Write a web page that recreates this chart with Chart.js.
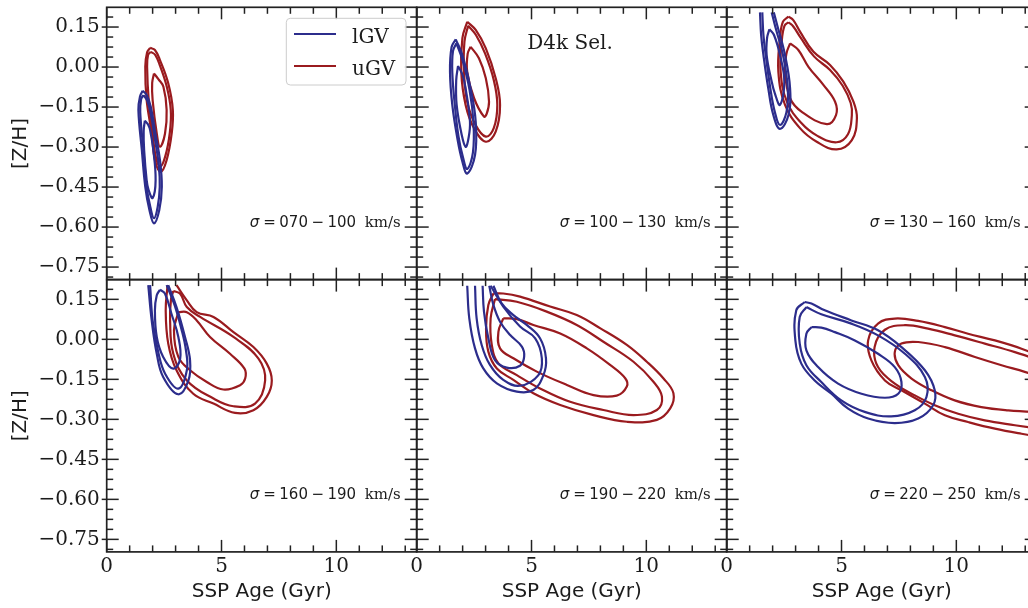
<!DOCTYPE html>
<html>
<head>
<meta charset="utf-8">
<script src="https://cdn.jsdelivr.net/npm/chart.js@4.4.1/dist/chart.umd.min.js"></script>
<style>
  html, body { margin: 0; padding: 0; background: #fff; }
  #wrap { position: relative; width: 1028px; height: 608px; overflow: hidden; }
  #wrap canvas { position: absolute; left: 0; top: 0; }
</style>
</head>
<body>
<div id="wrap"></div>
<script>
// axis ticks
const xTicks = [0, 5, 10];
const xTickLabels = ['0', '5', '10'];
const yTicks = [-0.75, -0.6, -0.45, -0.3, -0.15, 0, 0.15];
const yTickLabels = ['−0.75', '−0.60', '−0.45', '−0.30', '−0.15', '0.00', '0.15'];
const xRange = [0, 13.5];
const yRange = [-0.797, 0.224];

const seriesNames = ['lGV', 'uGV'];
const sigmaLo = ['070', '100', '130', '160', '190', '220'];
const sigmaHi = ['100', '130', '160', '190', '220', '250'];

// contours, [age, Z/H], outer -> inner
const p1Lgv1 = [[1.57,-0.089],[1.74,-0.105],[1.92,-0.149],[2.12,-0.249],[2.32,-0.349],[2.40,-0.449],[2.29,-0.536],[2.06,-0.586],[1.86,-0.536],[1.68,-0.449],[1.53,-0.311],[1.38,-0.161],[1.45,-0.11]];
const p1Lgv2 = [[1.60,-0.105],[1.76,-0.125],[1.92,-0.175],[2.10,-0.27],[2.27,-0.37],[2.31,-0.45],[2.22,-0.525],[2.06,-0.567],[1.90,-0.525],[1.74,-0.45],[1.60,-0.311],[1.46,-0.17],[1.50,-0.12]];
const p1Lgv3 = [[1.66,-0.201],[1.80,-0.215],[1.89,-0.236],[2.03,-0.311],[2.13,-0.424],[2.0,-0.491],[1.82,-0.46],[1.74,-0.424],[1.63,-0.311],[1.61,-0.24]];
const p1Ugv1 = [[1.89,0.072],[2.10,0.064],[2.32,0.026],[2.68,-0.061],[2.88,-0.161],[2.83,-0.249],[2.61,-0.349],[2.35,-0.393],[2.10,-0.349],[1.96,-0.249],[1.74,-0.124],[1.68,0.001],[1.76,0.055]];
const p1Ugv2 = [[1.92,0.057],[2.12,0.045],[2.32,0.005],[2.62,-0.075],[2.79,-0.161],[2.75,-0.245],[2.55,-0.335],[2.32,-0.374],[2.12,-0.33],[1.99,-0.24],[1.83,-0.124],[1.76,0.0],[1.80,0.045]];
const p1Ugv3 = [[2.06,-0.024],[2.25,-0.045],[2.47,-0.074],[2.61,-0.161],[2.54,-0.249],[2.32,-0.299],[2.18,-0.249],[2.0,-0.124],[1.98,-0.06]];

const p2Lgv1 = [[1.70,0.104],[1.99,0.045],[2.35,-0.080],[2.57,-0.205],[2.54,-0.330],[2.20,-0.399],[1.99,-0.355],[1.77,-0.267],[1.55,-0.142],[1.45,-0.018],[1.52,0.075]];
const p2Lgv2 = [[1.73,0.089],[1.98,0.03],[2.30,-0.085],[2.47,-0.205],[2.45,-0.32],[2.20,-0.382],[2.02,-0.34],[1.82,-0.26],[1.66,-0.142],[1.55,-0.02],[1.58,0.06]];
const p2Lgv3 = [[1.80,0.004],[2.0,-0.03],[2.13,-0.080],[2.32,-0.205],[2.25,-0.27],[2.13,-0.299],[1.95,-0.25],[1.74,-0.142],[1.72,-0.05]];
const p2Ugv1 = [[2.20,0.170],[2.57,0.139],[3.01,0.070],[3.44,-0.042],[3.63,-0.142],[3.44,-0.242],[3.01,-0.280],[2.50,-0.230],[2.13,-0.142],[1.94,-0.018],[1.99,0.108]];
const p2Ugv2 = [[2.24,0.155],[2.58,0.12],[2.98,0.05],[3.36,-0.05],[3.51,-0.142],[3.36,-0.228],[3.01,-0.261],[2.55,-0.215],[2.20,-0.13],[2.06,-0.018],[2.08,0.095]];
const p2Ugv3 = [[2.35,0.076],[2.71,0.033],[3.01,-0.042],[3.15,-0.130],[3.05,-0.175],[2.93,-0.186],[2.50,-0.117],[2.20,-0.018],[2.22,0.05]];

const p3Lgv1 = [[1.45,0.205],[1.50,0.12],[1.60,0.045],[1.81,-0.080],[2.03,-0.180],[2.32,-0.232],[2.69,-0.180],[2.76,-0.080],[2.54,0.045],[2.20,0.157],[2.05,0.205]];
const p3Lgv2 = [[1.55,0.205],[1.60,0.12],[1.70,0.045],[1.90,-0.080],[2.10,-0.17],[2.32,-0.217],[2.60,-0.17],[2.66,-0.080],[2.45,0.045],[2.12,0.15],[1.96,0.205]];
const p3Lgv3 = [[1.86,0.142],[2.06,0.120],[2.32,0.045],[2.51,-0.055],[2.32,-0.142],[2.10,-0.10],[1.96,-0.055],[1.74,0.045],[1.76,0.11]];
const p3Ugv1 = [[2.69,0.189],[2.90,0.176],[3.20,0.132],[3.78,0.057],[4.50,0.008],[5.08,-0.055],[5.52,-0.130],[5.67,-0.192],[5.45,-0.274],[4.79,-0.309],[3.92,-0.280],[3.20,-0.230],[2.54,-0.142],[2.25,-0.018],[2.32,0.108],[2.45,0.17]];
const p3Ugv2 = [[2.69,0.168],[2.90,0.152],[3.22,0.11],[3.80,0.04],[4.50,-0.011],[5.05,-0.07],[5.40,-0.135],[5.45,-0.180],[5.28,-0.252],[4.79,-0.282],[3.95,-0.258],[3.25,-0.21],[2.62,-0.13],[2.35,-0.018],[2.40,0.10],[2.52,0.155]];
const p3Ugv3 = [[2.76,0.089],[3.12,0.064],[3.56,0.001],[4.21,-0.067],[4.72,-0.130],[4.76,-0.180],[4.36,-0.214],[3.27,-0.168],[2.76,-0.117],[2.54,-0.018],[2.60,0.05]];

const p4Lgv1 = [[1.81,0.203],[1.96,0.071],[2.18,-0.054],[2.46,-0.141],[3.12,-0.206],[3.56,-0.154],[3.63,-0.079],[3.41,0.009],[3.04,0.121],[2.68,0.203]];
const p4Lgv2 = [[1.89,0.203],[2.0,0.071],[2.25,-0.05],[2.55,-0.13],[3.12,-0.185],[3.49,-0.116],[3.45,-0.04],[3.25,0.04],[2.95,0.13],[2.61,0.203]];
const p4Lgv3 = [[2.32,0.186],[2.54,0.171],[2.82,0.096],[3.12,0.009],[3.20,-0.072],[2.90,-0.110],[2.46,-0.066],[2.18,0.009],[2.10,0.109],[2.18,0.165]];
const p4Ugv1 = [[2.65,0.203],[2.57,0.109],[2.68,-0.016],[3.04,-0.116],[3.77,-0.204],[4.65,-0.241],[5.59,-0.276],[6.39,-0.266],[6.97,-0.216],[7.19,-0.154],[6.97,-0.091],[6.39,-0.029],[5.52,0.027],[4.65,0.084],[3.92,0.102],[3.49,0.146],[3.04,0.203]];
const p4Ugv2 = [[2.90,0.181],[3.20,0.171],[3.49,0.121],[4.07,0.084],[5.52,0.009],[6.61,-0.072],[6.90,-0.154],[6.46,-0.241],[5.52,-0.251],[4.65,-0.222],[3.49,-0.154],[2.90,-0.054],[2.76,0.071],[2.80,0.15]];
const p4Ugv3 = [[3.12,0.102],[3.49,0.102],[3.92,0.071],[4.50,0.009],[5.37,-0.054],[6.0,-0.110],[6.03,-0.147],[5.81,-0.172],[5.08,-0.188],[4.36,-0.160],[3.63,-0.116],[3.12,-0.066],[2.93,0.034]];

const p5Lgv1 = [[2.20,0.201],[2.29,0.079],[2.54,-0.034],[2.90,-0.109],[3.49,-0.165],[4.36,-0.196],[5.08,-0.190],[5.52,-0.134],[5.63,-0.071],[5.37,0.004],[4.79,0.054],[4.21,0.091],[3.70,0.135],[3.34,0.201]];
const p5Lgv2 = [[2.54,0.201],[2.61,0.079],[2.83,-0.021],[3.19,-0.096],[3.77,-0.152],[4.50,-0.174],[5.30,-0.134],[5.45,-0.071],[5.16,0.004],[4.50,0.048],[3.77,0.123],[3.22,0.201]];
const p5Lgv3 = [[2.87,0.201],[2.93,0.104],[3.12,0.004],[3.41,-0.078],[3.92,-0.106],[4.50,-0.099],[4.68,-0.065],[4.58,-0.027],[4.07,0.016],[3.63,0.066],[3.34,0.129],[3.16,0.201]];
const p5Ugv1 = [[3.34,0.172],[3.77,0.172],[4.50,0.160],[5.81,0.123],[6.97,0.091],[8.0,0.041],[9.15,-0.021],[10.02,-0.084],[10.74,-0.146],[11.18,-0.202],[11.04,-0.259],[10.46,-0.302],[9.15,-0.309],[7.70,-0.284],[6.25,-0.246],[5.08,-0.202],[4.21,-0.152],[3.49,-0.109],[3.12,-0.046],[3.02,0.041],[3.12,0.129]];
const p5Ugv2 = [[3.41,0.151],[4.36,0.141],[5.66,0.104],[6.97,0.054],[8.13,-0.009],[9.44,-0.084],[10.31,-0.159],[10.68,-0.215],[10.46,-0.265],[9.44,-0.284],[8.13,-0.265],[6.68,-0.234],[5.37,-0.184],[4.36,-0.134],[3.56,-0.090],[3.27,-0.021],[3.22,0.079]];
const p5Ugv3 = [[3.77,0.079],[4.36,0.076],[5.08,0.054],[6.25,0.022],[7.41,-0.034],[8.42,-0.096],[9.08,-0.146],[9.15,-0.177],[8.71,-0.211],[7.70,-0.209],[6.54,-0.171],[5.23,-0.121],[4.21,-0.071],[3.63,-0.034],[3.56,0.029]];

const p6Lgv1 = [[3.40,0.140],[3.69,0.134],[4.27,0.109],[5.43,0.071],[6.59,0.034],[7.61,-0.029],[8.63,-0.116],[9.06,-0.191],[8.99,-0.247],[8.34,-0.297],[7.32,-0.314],[6.16,-0.297],[5.29,-0.260],[4.56,-0.204],[3.83,-0.154],[3.25,-0.091],[2.99,-0.004],[3.03,0.109]];
const p6Lgv2 = [[3.47,0.121],[4.12,0.094],[5.43,0.059],[6.59,0.015],[7.76,-0.054],[8.63,-0.141],[8.70,-0.216],[8.19,-0.266],[7.16,-0.289],[6.01,-0.272],[4.99,-0.229],[4.12,-0.160],[3.47,-0.097],[3.18,-0.016],[3.18,0.084]];
const p6Lgv3 = [[3.69,0.046],[4.12,0.044],[4.71,0.027],[5.58,-0.004],[6.59,-0.054],[7.32,-0.104],[7.61,-0.160],[7.47,-0.204],[6.89,-0.219],[5.87,-0.204],[4.85,-0.166],[3.98,-0.104],[3.47,-0.041],[3.47,0.021]];
const p6Ugv1 = [[14.0,-0.37],[12.84,-0.354],[11.68,-0.335],[10.51,-0.310],[9.50,-0.285],[8.63,-0.241],[7.61,-0.191],[6.89,-0.154],[6.30,-0.079],[6.16,-0.004],[6.59,0.059],[7.32,0.078],[8.34,0.069],[9.50,0.046],[10.51,0.021],[11.68,-0.004],[12.84,-0.035],[14.0,-0.075]];
const p6Ugv2 = [[14.0,-0.34],[12.55,-0.322],[11.24,-0.304],[10.08,-0.279],[9.06,-0.247],[8.19,-0.210],[7.32,-0.166],[6.59,-0.104],[6.44,-0.029],[6.89,0.036],[7.76,0.053],[8.77,0.040],[9.93,0.015],[11.24,-0.016],[12.55,-0.048],[14.0,-0.09]];
const p6Ugv3 = [[14.0,-0.275],[12.26,-0.266],[11.09,-0.254],[9.93,-0.229],[8.92,-0.191],[8.05,-0.147],[7.47,-0.097],[7.32,-0.048],[7.61,-0.016],[8.34,-0.010],[9.50,-0.029],[10.81,-0.066],[11.97,-0.097],[12.98,-0.122],[14.0,-0.15]];

// which contours run off the model grid (left open)
const lgvOpen = [[0,0,0],[0,0,0],[1,1,0],[1,1,0],[1,1,1],[0,0,0]];
const ugvOpen = [[0,0,0],[0,0,0],[0,0,0],[1,0,0],[0,0,0],[1,1,1]];

const lgvSets = [[p1Lgv1,p1Lgv2,p1Lgv3],[p2Lgv1,p2Lgv2,p2Lgv3],[p3Lgv1,p3Lgv2,p3Lgv3],[p4Lgv1,p4Lgv2,p4Lgv3],[p5Lgv1,p5Lgv2,p5Lgv3],[p6Lgv1,p6Lgv2,p6Lgv3]];
const ugvSets = [[p1Ugv1,p1Ugv2,p1Ugv3],[p2Ugv1,p2Ugv2,p2Ugv3],[p3Ugv1,p3Ugv2,p3Ugv3],[p4Ugv1,p4Ugv2,p4Ugv3],[p5Ugv1,p5Ugv2,p5Ugv3],[p6Ugv1,p6Ugv2,p6Ugv3]];

const BLUE = '#2c2d8c';
const RED = '#9a1b1f';
const INK = '#1c1c1c';

const CW = 1040, CH = 608;
const colLeft = [106.7, 416.7, 726.7];
const rowTop = [7.3, 279.6];
const plotW = 310, plotH = 272.3;

function toPoints(pts, open) {
  const out = pts.map(p => ({x: p[0], y: p[1]}));
  if (!open) out.push({x: pts[0][0], y: pts[0][1]});
  return out;
}

const framePlugin = {
  id: 'frame',
  afterDatasetsDraw(chart, args, opts) {
    const {ctx, chartArea: a, scales: {x, y}} = chart;
    ctx.save();
    ctx.strokeStyle = '#222';
    ctx.lineWidth = 1.7;
    ctx.strokeRect(a.left, a.top, a.right - a.left, a.bottom - a.top);
    const seg = (x0, y0, x1, y1) => { ctx.beginPath(); ctx.moveTo(x0, y0); ctx.lineTo(x1, y1); ctx.stroke(); };

    // inward ticks on all four sides, minor every 1 Gyr
    ctx.lineWidth = 1.5;
    for (let v = 0; v <= x.max; v += 1) {
      const px = x.getPixelForValue(v);
      const len = xTicks.includes(v) ? 12 : 6.5;
      seg(px, a.bottom, px, a.bottom - len);
      seg(px, a.top, px, a.top + len);
    }
    const minor = (yTicks[1] - yTicks[0]) / 4;
    let k = Math.ceil((y.min - yTicks[0]) / minor - 1e-6);
    for (; yTicks[0] + k * minor <= y.max + 1e-9; k++) {
      const v = yTicks[0] + k * minor;
      const major = (k % 4 === 0);
      const py = y.getPixelForValue(v);
      const len = major ? 12 : 6.5;
      seg(a.left - (major && opts.outTicks ? 5 : 0), py, a.left + len, py);
      seg(a.right - len, py, a.right, py);
    }

    // sigma range label
    const parts = [
      ['σ', 'italic 15px "DejaVu Sans"', 4],
      ['=', '15px "DejaVu Sans"', 3.5],
      [opts.lo, '15px "DejaVu Sans"', 3.5],
      ['−', '15px "DejaVu Sans"', 3.5],
      [opts.hi, '15px "DejaVu Sans"', 8.5],
      ['km/s', '15px "DejaVu Serif"', 0]
    ];
    let total = 0;
    parts.forEach(p => { ctx.font = p[1]; p.push(ctx.measureText(p[0]).width); total += p[3] + p[2]; });
    let cx = a.right - 16 - total;
    const base = a.bottom - 52.5;
    ctx.fillStyle = INK;
    ctx.textBaseline = 'alphabetic';
    ctx.textAlign = 'left';
    parts.forEach(p => { ctx.font = p[1]; ctx.fillText(p[0], cx, base); cx += p[3] + p[2]; });

    if (opts.legend) {
      const lx = a.left + 179.6, ly = a.top + 11, lw = 119.7, lh = 66.7, r = 4;
      ctx.beginPath();
      ctx.roundRect(lx, ly, lw, lh, r);
      ctx.fillStyle = 'rgba(255,255,255,0.8)';
      ctx.fill();
      ctx.strokeStyle = '#cccccc';
      ctx.lineWidth = 1;
      ctx.stroke();
      const cols = [BLUE, RED];
      ctx.font = '20px "DejaVu Serif"';
      seriesNames.forEach((name, i) => {
        const yy = a.top + 26.7 + 32 * i;
        ctx.strokeStyle = cols[i];
        ctx.lineWidth = 2.2;
        seg(a.left + 187.3, yy, a.left + 229.3, yy);
        ctx.fillStyle = INK;
        ctx.fillText(name, a.left + 245.3, yy + 8.5);
      });
    }
    if (opts.note) {
      ctx.font = '20px "DejaVu Serif"';
      ctx.fillStyle = INK;
      ctx.fillText(opts.note, a.left + 110.6, a.top + 41.7);
    }
    ctx.restore();
  }
};

const wrap = document.getElementById('wrap');
for (let i = 0; i < 6; i++) {
  const r = Math.floor(i / 3), c = i % 3;
  const left = colLeft[c], top = rowTop[r];
  const yW = c === 0 ? 106.7 : 20;
  const xH = r === 1 ? CH - (top + plotH) : 0;

  const datasets = [];
  lgvSets[i].forEach((pts, j) => datasets.push({
    label: seriesNames[0], data: toPoints(pts, lgvOpen[i][j]), borderColor: BLUE
  }));
  ugvSets[i].forEach((pts, j) => datasets.push({
    label: seriesNames[1], data: toPoints(pts, ugvOpen[i][j]), borderColor: RED
  }));
  datasets.forEach(d => Object.assign(d, {showLine: true, tension: 0.4, borderWidth: 2.2, pointRadius: 0, fill: false}));

  const canvas = document.createElement('canvas');
  canvas.width = CW; canvas.height = CH;
  canvas.style.width = CW + 'px'; canvas.style.height = CH + 'px';
  wrap.appendChild(canvas);

  new Chart(canvas, {
    type: 'scatter',
    data: { datasets },
    plugins: [framePlugin],
    options: {
      responsive: false,
      animation: false,
      events: [],
      layout: { padding: { left: left - yW, top: top, right: CW - (left + plotW), bottom: CH - (top + plotH) - xH } },
      plugins: {
        legend: { display: false },
        tooltip: { enabled: false },
        frame: { outTicks: c === 0, lo: sigmaLo[i], hi: sigmaHi[i], legend: i === 0, note: i === 1 ? 'D4k Sel.' : null }
      },
      scales: {
        x: {
          type: 'linear', position: 'bottom', min: xRange[0], max: xRange[1],
          grid: { display: false, drawTicks: false }, border: { display: false },
          afterBuildTicks: s => { s.ticks = xTicks.map(v => ({value: v})); },
          afterFit: s => { s.height = xH; s.paddingLeft = 0; s.paddingRight = 0; },
          ticks: { display: r === 1, autoSkip: false, maxRotation: 0, padding: 3, color: INK,
                   font: { family: 'DejaVu Serif', size: 20 }, callback: (v, k) => xTickLabels[k] },
          title: { display: r === 1, text: 'SSP Age (Gyr)', color: INK, padding: { top: 0, bottom: 4 },
                   font: { family: 'DejaVu Sans', size: 20 } }
        },
        y: {
          type: 'linear', position: 'left', min: yRange[0], max: yRange[1],
          grid: { display: false, drawTicks: false }, border: { display: false },
          afterBuildTicks: s => { s.ticks = yTicks.map(v => ({value: v})); },
          afterFit: s => { s.width = yW; s.paddingTop = 0; s.paddingBottom = 0; },
          ticks: { display: c === 0, padding: 7, color: INK,
                   font: { family: 'DejaVu Serif', size: 20 }, callback: (v, k) => yTickLabels[k] },
          title: { display: c === 0, text: '[Z/H]', color: INK, padding: { top: 9, bottom: 0 },
                   font: { family: 'DejaVu Sans', size: 20 } }
        }
      }
    }
  });
}
</script>
</body>
</html>
